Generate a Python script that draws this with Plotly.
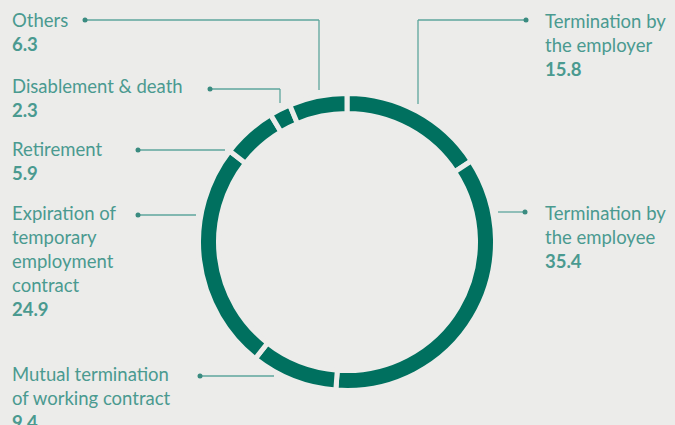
import plotly.graph_objects as go

# ---- data (clockwise from 12 o'clock) ----
categories = [
    "Termination by the employer",
    "Termination by the employee",
    "Mutual termination of working contract",
    "Expiration of temporary employment contract",
    "Retirement",
    "Disablement & death",
    "Others",
]
values = [15.8, 35.4, 9.4, 24.9, 5.9, 2.3, 6.3]
label_text = [
    "Termination by<br>the employer",
    "Termination by<br>the employee",
    "Mutual termination<br>of working contract",
    "Expiration of<br>temporary<br>employment<br>contract",
    "Retirement",
    "Disablement & death",
    "Others",
]

W, H = 675, 425
BG = "#ececea"
RING = "#00705f"
TXT = "#4a9a90"
NUM = "#3a8b80"
LINE = "#5ea69c"


def px(x, y):
    return x / W, 1 - y / H


# layout: label anchor (x, y top) and leader polyline points (pixels)
label_pos = [
    (543, 8),
    (543, 200),
    (10, 361),
    (10, 200),
    (10, 136),
    (10, 73),
    (10, 7),
]
leader_paths = [
    [(526, 20), (418, 20), (418, 104)],
    [(525, 212), (498, 212)],
    [(200, 376), (274, 376)],
    [(138, 215), (196, 215)],
    [(138, 150), (225, 150)],
    [(210, 89), (280, 89), (280, 103)],
    [(85, 20), (319, 20), (319, 90)],
]

GAP = 5
cx, cy = 347, 242
r_out, r_in = 146, 131
R = r_out + GAP / 2
hole = (r_in - GAP / 2) / R

fig = go.Figure(
    go.Pie(
        labels=categories,
        values=values,
        sort=False,
        direction="clockwise",
        rotation=0,
        hole=hole,
        textinfo="none",
        hoverinfo="label+value",
        marker=dict(colors=[RING] * len(values), line=dict(color=BG, width=GAP)),
        domain=dict(
            x=[(cx - R) / W, (cx + R) / W],
            y=[1 - (cy + R) / H, 1 - (cy - R) / H],
        ),
        showlegend=False,
    )
)

shapes = []
annotations = []
for name, val, (lx, ly), path in zip(label_text, values, label_pos, leader_paths):
    ax, ay = px(lx, ly)
    annotations.append(
        dict(
            x=ax, y=ay, xref="paper", yref="paper",
            xanchor="left", yanchor="top", align="left",
            showarrow=False,
            text=f"{name}<br><b>{val:.1f}</b>",
            font=dict(family="Lato, sans-serif", size=18.5, color=TXT),
        )
    )
    for (x0, y0), (x1, y1) in zip(path[:-1], path[1:]):
        p0, p1 = px(x0, y0), px(x1, y1)
        shapes.append(dict(type="line", xref="paper", yref="paper",
                           x0=p0[0], y0=p0[1], x1=p1[0], y1=p1[1],
                           line=dict(color=LINE, width=1.3)))
    dx, dy = path[0]
    d0, d1 = px(dx - 2.5, dy - 2.5), px(dx + 2.5, dy + 2.5)
    shapes.append(dict(type="circle", xref="paper", yref="paper",
                       x0=d0[0], y0=d0[1], x1=d1[0], y1=d1[1],
                       fillcolor=NUM, line=dict(width=0)))

fig.update_layout(
    width=W, height=H,
    margin=dict(l=0, r=0, t=0, b=0),
    paper_bgcolor=BG, plot_bgcolor=BG,
    shapes=shapes, annotations=annotations,
)

fig.write_html(
    "out.html",
    config={"displayModeBar": False},
    post_script="document.body.style.margin='0';document.body.style.overflow='hidden';",
)
